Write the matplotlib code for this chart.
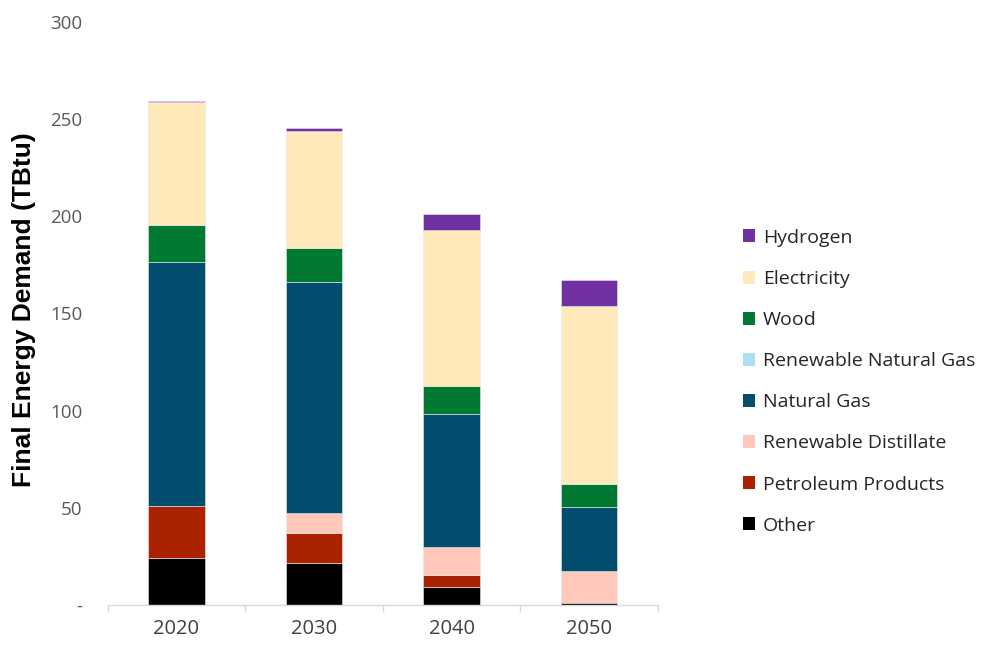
import matplotlib
matplotlib.use("Agg")
import matplotlib.pyplot as plt
from matplotlib.patches import Patch
import numpy as np

years = ["2020", "2030", "2040", "2050"]
series_names = ["Other", "Petroleum Products", "Renewable Distillate", "Natural Gas",
                "Renewable Natural Gas", "Wood", "Electricity", "Hydrogen"]

other = [24.2, 21.8, 9.3, 1.0]
petroleum = [26.7, 15.0, 6.2, 0.5]
renewable_distillate = [0.0, 10.4, 14.1, 16.1]
natural_gas = [125.8, 119.0, 68.6, 32.6]
renewable_natural_gas = [0.0, 0.0, 0.3, 0.4]
wood = [18.8, 17.7, 14.4, 11.5]
electricity = [63.2, 60.1, 79.8, 91.9]
hydrogen = [0.8, 1.2, 8.6, 13.0]

colors = ["#000000", "#AA2200", "#FFC8BA", "#034E6E",
          "#ADDFF7", "#007A33", "#FFE9BB", "#7030A0"]

values = [other, petroleum, renewable_distillate, natural_gas,
          renewable_natural_gas, wood, electricity, hydrogen]

fig = plt.figure(figsize=(9.88, 6.48), dpi=100)
ax = fig.add_axes([0.109, 0.0664, 0.557, 0.8997])

x = np.arange(len(years))
bottom = np.zeros(len(years))
for name, vals, col in zip(series_names, values, colors):
    v = np.array(vals)
    ax.bar(x, v, bottom=bottom, width=0.41, color=col,
           edgecolor="#e8e8e8", linewidth=0.4, label=name)
    bottom += v

ax.set_xlim(-0.5, 3.5)
ax.set_ylim(0, 300)
ax.set_yticks([0, 50, 100, 150, 200, 250, 300])
ax.set_yticklabels(["-", "50", "100", "150", "200", "250", "300"],
                   fontfamily="Open Sans", fontsize=13.5, color="#595959")
ax.tick_params(axis="y", length=0, pad=18)

ax.set_xticks(x)
ax.set_xticklabels(years, fontfamily="Open Sans", fontsize=14.5, color="#404040")
ax.tick_params(axis="x", length=0, pad=10)
ax.set_xticks(np.arange(-0.5, 4.0, 1.0), minor=True)
ax.tick_params(axis="x", which="minor", length=5, color="#d9d9d9", width=1)

for s in ["top", "right", "left"]:
    ax.spines[s].set_visible(False)
ax.spines["bottom"].set_color("#d9d9d9")
ax.spines["bottom"].set_linewidth(1)

fig.text(24 / 988, 1 - 310 / 648, "Final Energy Demand (TBtu)", rotation=90,
         ha="center", va="center", fontfamily="Liberation Sans",
         fontweight="bold", fontsize=19, color="black")

handles = [Patch(facecolor=c, edgecolor="none") for c in colors][::-1]
labels = series_names[::-1]
fig.legend(handles, labels, loc="upper left", bbox_to_anchor=(0.738, 0.668),
           frameon=False, prop={"family": "Open Sans", "size": 14},
           labelcolor="#262626", handlelength=0.65, handleheight=0.65,
           handletextpad=0.4, labelspacing=1.19, borderpad=0.2)

fig.savefig("out.png", dpi=100)
